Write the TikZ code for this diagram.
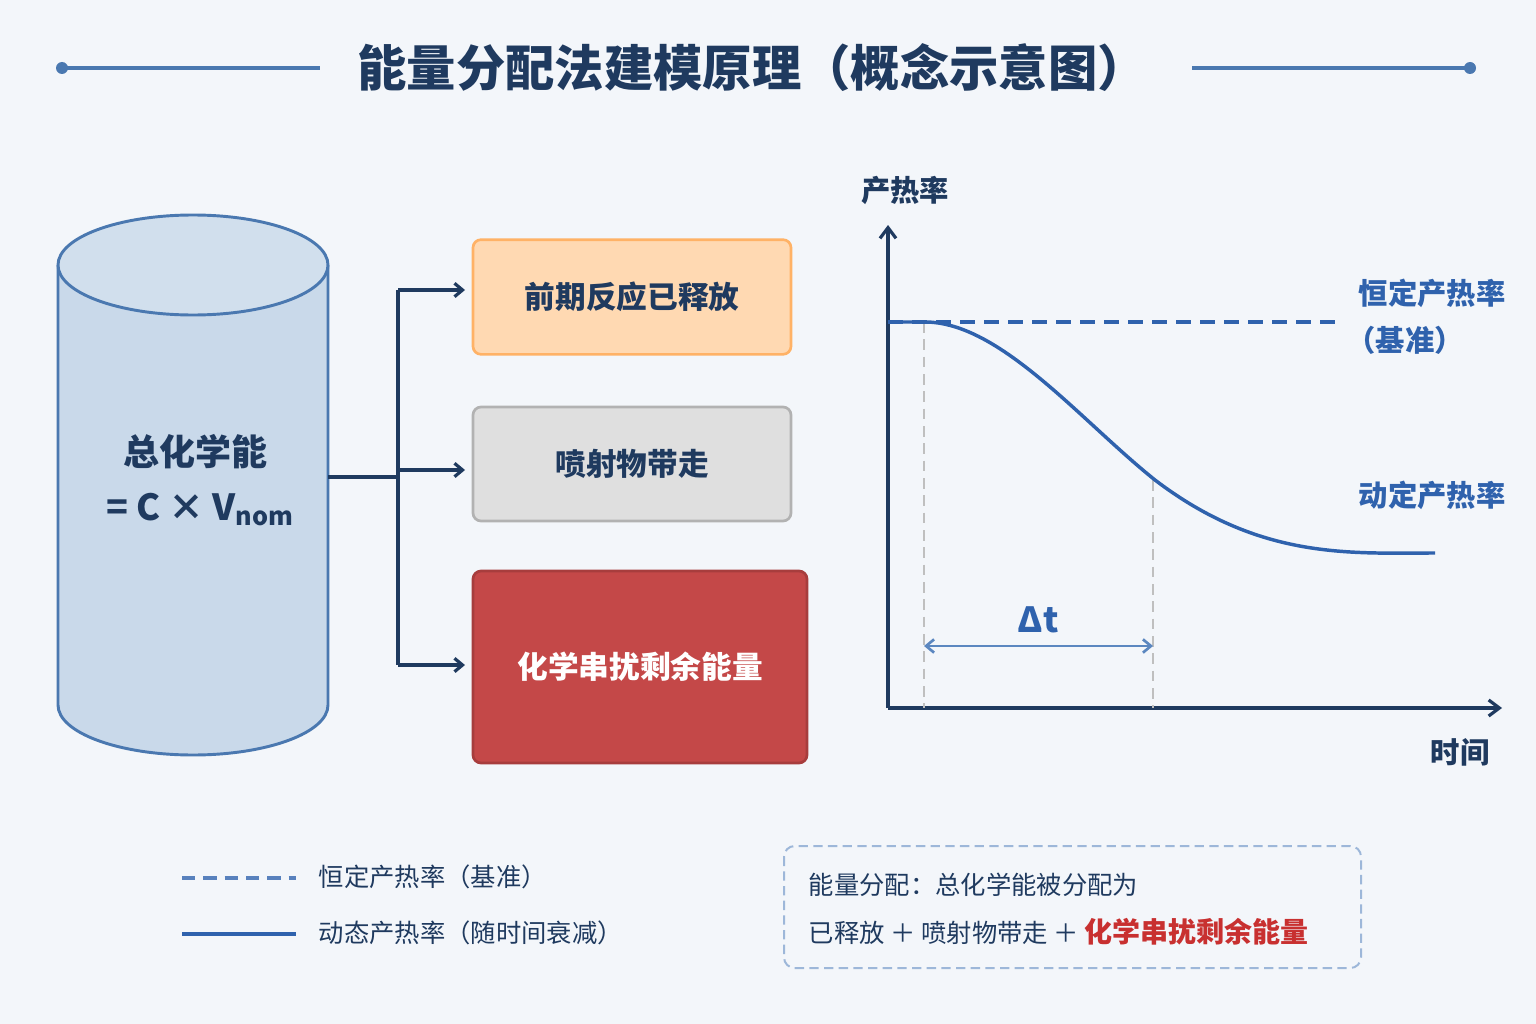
\documentclass[tikz,border=0pt]{standalone}
\usepackage{fontspec}
\setmainfont{Noto Sans CJK SC}
\usetikzlibrary{arrows.meta}
\definecolor{bg}{HTML}{F3F6FA}
\definecolor{navy}{HTML}{1F3A5F}
\definecolor{cylf}{HTML}{C9D9EA}
\definecolor{cyls}{HTML}{4A78B0}
\definecolor{blu}{HTML}{2F62AD}
\definecolor{lblu}{HTML}{5B87C0}
\definecolor{rd}{HTML}{C44848}
\definecolor{rdt}{HTML}{C83030}
\tikzset{
 px/.style={x=0.75pt,y=-0.75pt},
 conn/.style={navy,line width=2.4pt,-{Straight Barb[length=6pt,width=10pt]}},
 box/.style={rounded corners=6pt,line width=2pt},
 lbl/.style={font=\fontsize{22}{26}\selectfont\bfseries,text=blu},
 leg/.style={font=\fontsize{19}{23}\selectfont,text=navy,anchor=west},
}
\begin{document}
\begin{tikzpicture}[px]
\fill[bg] (0,0) rectangle (1536,1024);
\useasboundingbox (0,0) rectangle (1536,1024);
% title
\node[font=\fontsize{37}{44}\selectfont\bfseries,text=navy] (title) at (752,68) {能量分配法建模原理（概念示意图）};
\coordinate (l1) at (62,68); \coordinate (l2) at (320,68);
\coordinate (r1) at (1192,68); \coordinate (r2) at (1470,68);
\draw[cyls,line width=2.5pt] (l1)--(l2) (r1)--(r2);
\fill[cyls] (l1) circle (6) (r2) circle (6);
% cylinder
\draw[cyls,line width=2.2pt,fill=cylf] (58,265)--(58,705) arc[start angle=180,end angle=0,x radius=135,y radius=50]--(328,265);
\draw[cyls,line width=2.2pt,fill=cylf!85!white] (193,265) ellipse[x radius=135,y radius=50];
\node[font=\fontsize{27}{32}\selectfont\bfseries,text=navy] (tot) at (195,452) {总化学能};
\node[font=\fontsize{27}{32}\selectfont\bfseries,text=navy] (eq) at (200,510) {= C × V\textsubscript{nom}};
\coordinate (cyl) at (328,477);
% boxes
\node[box,draw=orange!60,fill=orange!30!white,minimum width=238.5pt,minimum height=86pt,font=\fontsize{23}{28}\selectfont\bfseries,text=navy] (b1) at (632,297) {前期反应已释放};
\node[box,draw=gray!60,fill=gray!25,minimum width=238.5pt,minimum height=85.5pt,font=\fontsize{23}{28}\selectfont\bfseries,text=navy] (b2) at (632,464) {喷射物带走};
\node[box,draw=rd!85!black,fill=rd,minimum width=250.5pt,minimum height=144pt,font=\fontsize{23}{28}\selectfont\bfseries,text=white] (b3) at (640,667) {化学串扰剩余能量};
\coordinate (j) at (398,477);
\draw[navy,line width=2.4pt] (cyl)--(j);
\draw[navy,line width=2.4pt] (398,290)--(398,665);
\draw[conn] (398,290)--(465,290);
\draw[conn] (398,470)--(465,470);
\draw[conn] (398,665)--(465,665);
% axes
\coordinate (o) at (888,708);
\draw[navy,line width=2.4pt,-{Straight Barb[length=8pt,width=12pt]}] (o)--(888,225);
\draw[navy,line width=2.4pt,-{Straight Barb[length=8pt,width=12pt]}] (o)--(1502,708);
\node[font=\fontsize{22}{26}\selectfont\bfseries,text=navy] (yl) at (905,190) {产热率};
\node[font=\fontsize{22}{26}\selectfont\bfseries,text=navy] (xl) at (1460,752) {时间};
\draw[gray!50,line width=1.5pt,dash pattern=on 8pt off 5pt] (924,322)--(924,708) (1153,480)--(1153,708);
\draw[blu,line width=2.4pt,dash pattern=on 11pt off 7pt] (888,322)--(1340,322);
\draw[blu,line width=2.6pt] (888,322)--(925,322) .. controls (1000,322) and (1080,420) .. (1155,480) .. controls (1260,560) and (1350,553) .. (1435,553);
\draw[lblu,line width=2pt,{Straight Barb[length=6pt,width=10pt]}-{Straight Barb[length=6pt,width=10pt]}] (924,646)--(1153,646);
\node[font=\fontsize{26}{30}\selectfont\bfseries,text=blu] (dt) at (1038,620) {Δt};
\node[lbl] (c1) at (1432,293) {恒定产热率};
\node[lbl] (c2) at (1405,340) {（基准）};
\node[lbl] (c3) at (1432,495) {动定产热率};
% legend
\draw[blu!80,line width=2.6pt,dash pattern=on 10pt off 6pt] (182,878)--(296,878);
\draw[blu,line width=3pt] (182,934)--(296,934);
\node[leg] (g1) at (314,877) {恒定产热率（基准）};
\node[leg] (g2) at (314,933) {动态产热率（随时间衰减）};
\draw[lblu!60,line width=1.5pt,dash pattern=on 7pt off 4pt,rounded corners=8pt] (784,846) rectangle (1361,968);
\node[leg] (n1) at (804,885) {能量分配：总化学能被分配为};
\node[leg] (n2) at (804,932) {已释放 ＋ 喷射物带走 ＋ \textcolor{rdt}{\fontsize{21}{25}\selectfont\bfseries 化学串扰剩余能量}};
\end{tikzpicture}
\end{document}
